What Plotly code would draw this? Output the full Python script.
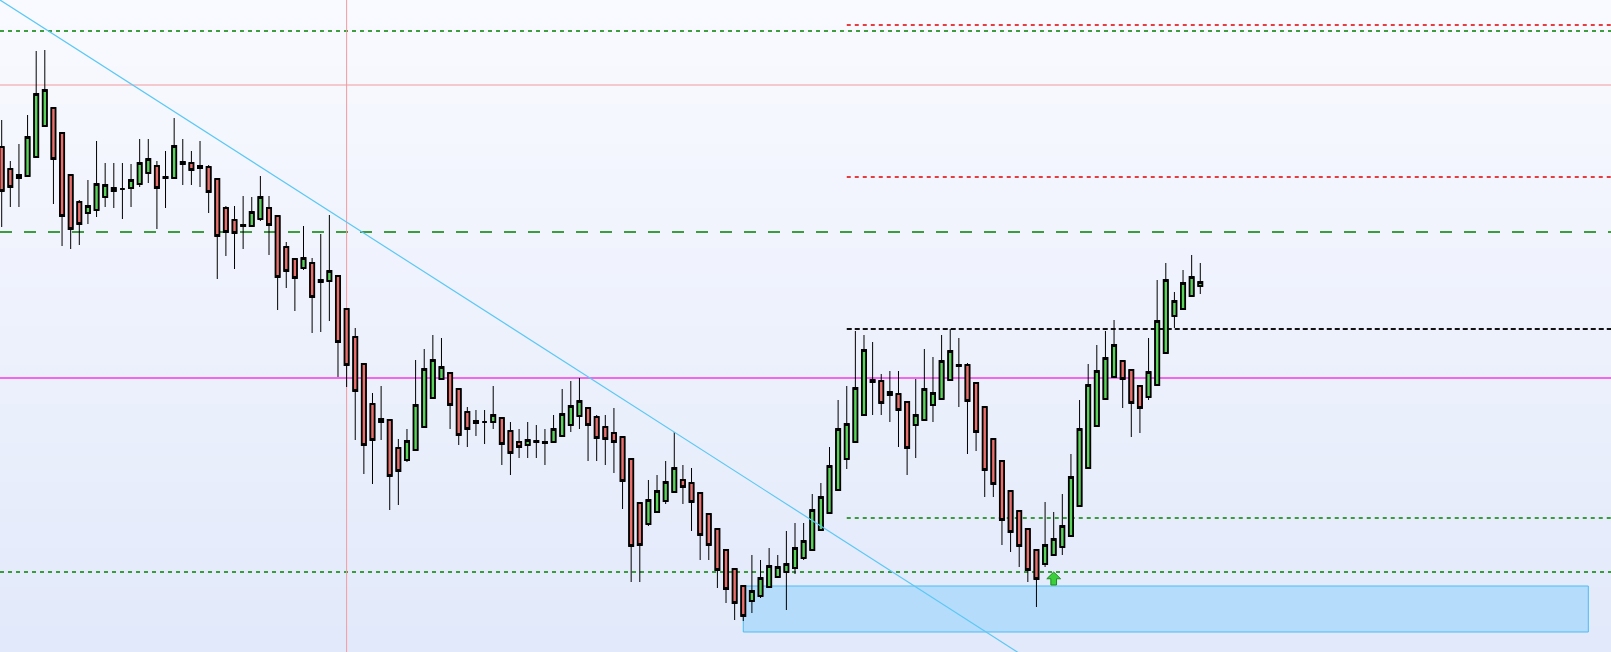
import plotly.graph_objects as go

# candle data (index on x, price level on y)
opens = [505, 483, 474, 476, 495, 526, 544, 519, 477, 450, 439, 442, 455, 461, 463, 464, 468, 479, 486, 475,
         474, 490, 489, 486, 485, 473, 444, 432, 427, 426, 433, 444, 436, 405, 393, 384, 389, 372, 371, 376,
         343, 315, 288, 248, 230, 232, 204, 192, 202, 225, 254, 273, 279, 263, 240, 231, 230, 230, 234, 221,
         210, 207, 211, 210, 210, 216, 227, 236, 244, 235, 225, 219, 215, 193, 149, 128, 140, 151, 160, 172,
         169, 159, 138, 123, 102, 83, 66, 51, 56, 65, 75, 80, 84, 94, 102, 122, 139, 162, 193, 210,
         237, 270, 271, 260, 258, 250, 227, 232, 247, 253, 272, 287, 287, 269, 245, 213, 191, 161, 141, 123,
         102, 88, 97, 105, 116, 146, 184, 226, 253, 275, 291, 282, 266, 255, 267, 299, 336, 343, 356, 366]
highs = [532, 491, 508, 537, 601, 602, 544, 519, 477, 452, 472, 511, 489, 489, 489, 488, 513, 513, 491, 501,
         534, 513, 501, 511, 487, 473, 446, 446, 456, 455, 476, 456, 436, 410, 393, 426, 394, 418, 437, 376,
         343, 324, 288, 259, 266, 232, 213, 223, 292, 303, 317, 314, 279, 263, 245, 242, 242, 266, 234, 230,
         223, 230, 227, 223, 237, 263, 271, 274, 245, 237, 237, 244, 215, 193, 149, 172, 177, 191, 220, 187,
         184, 159, 138, 123, 102, 83, 66, 97, 92, 104, 97, 121, 129, 129, 158, 169, 205, 252, 266, 321,
         317, 310, 278, 281, 281, 250, 273, 303, 295, 317, 323, 314, 289, 269, 245, 213, 191, 161, 141, 123,
         102, 150, 140, 158, 198, 252, 288, 307, 321, 332, 292, 282, 266, 314, 372, 389, 360, 382, 397, 389]
lows = [425, 445, 445, 476, 495, 526, 448, 406, 403, 407, 428, 435, 445, 444, 433, 445, 465, 469, 423, 444,
        474, 467, 467, 465, 439, 373, 396, 383, 403, 426, 431, 397, 342, 364, 341, 382, 319, 320, 331, 275,
        265, 212, 178, 168, 212, 142, 147, 190, 202, 225, 254, 273, 223, 207, 205, 216, 208, 223, 187, 177,
        194, 194, 194, 187, 210, 216, 220, 223, 191, 191, 187, 179, 143, 70, 70, 126, 140, 148, 160, 148,
        121, 92, 92, 64, 49, 32, 31, 39, 54, 65, 75, 42, 78, 92, 102, 122, 139, 162, 183, 210,
        237, 237, 237, 230, 205, 177, 194, 232, 230, 253, 272, 245, 198, 201, 155, 155, 107, 100, 85, 70,
        45, 85, 97, 97, 116, 146, 184, 226, 253, 275, 244, 215, 219, 252, 267, 299, 324, 343, 356, 358]
closes = [461, 465, 477, 515, 558, 562, 493, 436, 423, 428, 446, 468, 467, 464, 463, 472, 489, 493, 464, 474,
          506, 488, 482, 484, 460, 416, 420, 419, 426, 440, 455, 427, 375, 381, 374, 394, 355, 370, 381, 310,
          287, 261, 207, 212, 233, 176, 181, 211, 247, 283, 292, 285, 247, 217, 223, 229, 230, 237, 208, 199,
          205, 212, 210, 209, 223, 238, 246, 251, 227, 214, 213, 210, 171, 106, 107, 152, 161, 170, 184, 165,
          150, 117, 107, 82, 63, 49, 36, 61, 74, 86, 85, 88, 104, 111, 142, 155, 186, 223, 228, 264,
          302, 272, 249, 257, 242, 204, 237, 263, 259, 291, 301, 286, 251, 220, 182, 168, 132, 120, 106, 82,
          73, 107, 113, 126, 175, 223, 267, 281, 294, 307, 273, 249, 244, 280, 331, 372, 351, 369, 375, 370]
idx = list(range(len(opens)))

# horizontal levels: (price, colour, width, dash)
full_levels = [
    (621, "#008000", 1.3, "4px,4px"),
    (567, "#f29a9e", 1.0, "solid"),
    (420, "#008000", 1.3, "12px,12px"),
    (274, "#f566f0", 2.2, "solid"),
    (80, "#008000", 1.3, "4px,4px"),
]
right_levels = [
    (627, "#e00000", 1.3, "4px,4px"),
    (475, "#e00000", 1.3, "4px,4px"),
    (323, "#111111", 2.0, "5px,3px"),
    (134, "#008000", 1.3, "4px,4px"),
]
right_start = 98
vline_idx = 40
trend_pts = [(-1, 656.5), (121, -17.8)]
zone = dict(x0=86, x1=184, y0=20, y1=66)
arrow_idx, arrow_low, arrow_high = 122, 67, 80

x_range = [-0.197, 186.63]
y_range = [0, 652]

body_top = [max(o, c) for o, c in zip(opens, closes)]
body_bot = [min(o, c) for o, c in zip(opens, closes)]

fig = go.Figure()
# wicks and bodies
fig.add_trace(go.Candlestick(
    x=idx, open=opens, high=highs, low=lows, close=closes,
    increasing=dict(line=dict(color="#000000", width=1), fillcolor="#5ad35a"),
    decreasing=dict(line=dict(color="#000000", width=1), fillcolor="#e96f6c"),
    showlegend=False, hoverinfo="skip",
))
# heavier outline round the bodies only
fig.add_trace(go.Candlestick(
    x=idx, open=opens, high=body_top, low=body_bot, close=closes,
    increasing=dict(line=dict(color="#000000", width=1.8), fillcolor="#5ad35a"),
    decreasing=dict(line=dict(color="#000000", width=1.8), fillcolor="#e96f6c"),
    showlegend=False, hoverinfo="skip",
))

shapes = []
# soft vertical background gradient
top_rgb, bot_rgb = (249, 250, 255), (226, 233, 250)
n_bands = 50
for i in range(n_bands):
    t = i / (n_bands - 1)
    c = tuple(round(bot_rgb[k] + (top_rgb[k] - bot_rgb[k]) * t) for k in range(3))
    shapes.append(dict(type="rect", xref="paper", yref="paper", x0=0, x1=1,
                       y0=i / n_bands, y1=(i + 1) / n_bands + 0.002,
                       fillcolor="rgb(%d,%d,%d)" % c, line=dict(width=0), layer="below"))

shapes.append(dict(type="rect", x0=zone["x0"], x1=zone["x1"], y0=zone["y0"], y1=zone["y1"],
                   fillcolor="#b6dcfb", line=dict(color="#4cbdf3", width=1), layer="below"))

for price, col, w, dash in full_levels:
    shapes.append(dict(type="line", xref="paper", x0=0, x1=1, y0=price, y1=price,
                       line=dict(color=col, width=w, dash=dash), layer="below"))
for price, col, w, dash in right_levels:
    shapes.append(dict(type="line", x0=right_start, x1=x_range[1], y0=price, y1=price,
                       line=dict(color=col, width=w, dash=dash), layer="below"))

shapes.append(dict(type="line", yref="paper", x0=vline_idx, x1=vline_idx, y0=0, y1=1,
                   line=dict(color="#f29a9e", width=1), layer="below"))
shapes.append(dict(type="line", x0=trend_pts[0][0], y0=trend_pts[0][1], x1=trend_pts[1][0], y1=trend_pts[1][1],
                   line=dict(color="#5cc8f5", width=1.2), layer="above"))

# small up arrow signal
mid = arrow_low + (arrow_high - arrow_low) * 0.48
hw, sw = 0.8, 0.33
path = ("M {a},{t} L {r},{m} L {rs},{m} L {rs},{b} L {ls},{b} L {ls},{m} L {l},{m} Z"
        .format(a=arrow_idx, t=arrow_high, r=arrow_idx + hw, l=arrow_idx - hw, m=mid,
                rs=arrow_idx + sw, ls=arrow_idx - sw, b=arrow_low))
shapes.append(dict(type="path", path=path, fillcolor="#3ccf3c", line=dict(color="#1c8c1c", width=1)))

fig.update_layout(
    width=1611, height=652,
    margin=dict(l=0, r=0, t=0, b=0),
    paper_bgcolor="#f0f3fc", plot_bgcolor="#f0f3fc",
    shapes=shapes,
    xaxis=dict(range=x_range, visible=False, rangeslider=dict(visible=False), fixedrange=True),
    yaxis=dict(range=y_range, visible=False, fixedrange=True),
    showlegend=False,
    hovermode=False,
)

# drop the browser's default page margin so the chart fills the window
fig.write_html("out.html", config={"displayModeBar": False},
               post_script="document.body.style.margin='0';document.body.style.overflow='hidden';")
